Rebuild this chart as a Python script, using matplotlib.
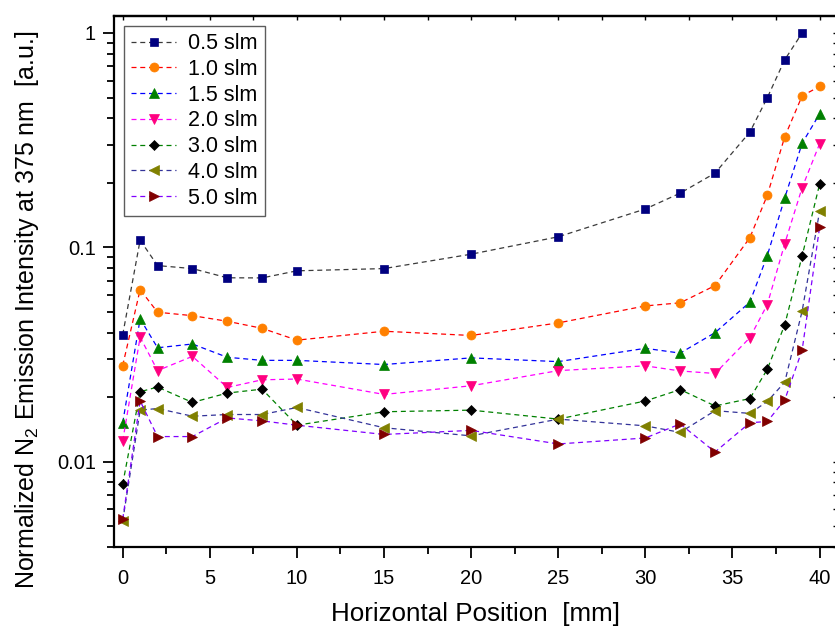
import matplotlib
matplotlib.use("Agg")
import matplotlib.pyplot as plt
import numpy as np
from matplotlib.ticker import FixedLocator, FixedFormatter, MultipleLocator, LogLocator, NullFormatter

plt.rcParams["font.family"] = ["Liberation Sans", "DejaVu Sans"]
plt.rcParams["mathtext.fontset"] = "custom"
plt.rcParams["mathtext.rm"] = "Liberation Sans"
plt.rcParams["mathtext.it"] = "Liberation Sans:italic"

# horizontal positions (mm)
pos = [0, 1, 2, 4, 6, 8, 10, 15, 20, 25, 30, 32, 34, 36, 37, 38, 39, 40]

# normalized intensities per flow rate
slm_05 = [0.0391, 0.108, 0.0822, 0.0796, 0.0721, 0.0720, 0.0777, 0.0796, 0.0929,
          0.112, 0.151, 0.179, 0.222, 0.345, 0.499, 0.750, 1.0]
slm_10 = [0.0281, 0.0635, 0.0498, 0.0480, 0.0452, 0.0419, 0.0369, 0.0406, 0.0388,
          0.0444, 0.0533, 0.0551, 0.0663, 0.111, 0.175, 0.328, 0.509, 0.563]
slm_15 = [0.0152, 0.0464, 0.0340, 0.0354, 0.0307, 0.0297, 0.0297, 0.0284, 0.0305,
          0.0293, 0.0338, 0.0321, 0.0400, 0.0555, 0.0916, 0.170, 0.306, 0.419]
slm_20 = [0.0125, 0.0381, 0.0266, 0.0310, 0.0222, 0.0241, 0.0243, 0.0206, 0.0226,
          0.0266, 0.0280, 0.0265, 0.0258, 0.0379, 0.0541, 0.104, 0.190, 0.304]
slm_30 = [0.00787, 0.0212, 0.0223, 0.0189, 0.0209, 0.0218, 0.0148, 0.0171, 0.0174,
          0.0158, 0.0192, 0.0217, 0.0182, 0.0197, 0.0270, 0.0435, 0.0913, 0.197]
slm_40 = [0.0053, 0.0174, 0.0177, 0.0163, 0.0166, 0.0166, 0.0179, 0.0144, 0.0132,
          0.0158, 0.0147, 0.0137, 0.0173, 0.0168, 0.0191, 0.0235, 0.0505, 0.147]
slm_50 = [0.0054, 0.0192, 0.0131, 0.0131, 0.0160, 0.0155, 0.0148, 0.0134, 0.0140,
          0.0121, 0.0129, 0.0150, 0.0111, 0.0152, 0.0154, 0.0194, 0.0332, 0.124]

labels = ["0.5 slm", "1.0 slm", "1.5 slm", "2.0 slm", "3.0 slm", "4.0 slm", "5.0 slm"]
series = [slm_05, slm_10, slm_15, slm_20, slm_30, slm_40, slm_50]
line_colors = ["#3a3a3a", "#ff0000", "#0000ff", "#ff00ff", "#008000", "#333399", "#8000ff"]
marker_colors = ["#000080", "#ff8000", "#008000", "#ff0080", "#000000", "#808000", "#800000"]
markers = ["s", "o", "^", "v", "D", "<", ">"]
msizes = [5.5, 6.5, 7, 7, 5.5, 7, 7]

yticks = [0.01, 0.1, 1]
ytick_labels = ["0.01", "0.1", "1"]

fig = plt.figure(figsize=(8.35, 6.3), dpi=100)
ax = fig.add_axes([114 / 835, 1 - 547 / 630, 723 / 835, 531 / 630])

for vals, lab, lc, mc, mk, ms in zip(series, labels, line_colors, marker_colors, markers, msizes):
    ax.plot(pos[:len(vals)], vals, linestyle=(0, (4, 3)), linewidth=0.9, color=lc,
            marker=mk, markersize=ms, markerfacecolor=mc, markeredgecolor=mc,
            markeredgewidth=0.5, label=lab)

ax.set_yscale("log")
ax.set_xlim(-0.5, 41)
ax.set_ylim(0.004, 1.2)

ax.xaxis.set_major_locator(MultipleLocator(5))
ax.xaxis.set_minor_locator(MultipleLocator(2.5))
ax.yaxis.set_major_locator(FixedLocator(yticks))
ax.yaxis.set_major_formatter(FixedFormatter(ytick_labels))
ax.yaxis.set_minor_locator(LogLocator(base=10, subs=np.arange(2, 10)))
ax.yaxis.set_minor_formatter(NullFormatter())

ax.tick_params(axis="both", which="major", direction="out", length=8, width=1.3,
               labelsize=14.5, top=False, right=False)
ax.tick_params(axis="both", which="minor", direction="out", length=5, width=1.3,
               top=False, right=False)
ax.tick_params(axis="x", which="major", pad=8)
ax.tick_params(axis="y", which="major", pad=5)

# small inward ticks mirrored on top and right
sec_x = ax.secondary_xaxis("top")
sec_x.xaxis.set_major_locator(MultipleLocator(2.5))
sec_x.tick_params(direction="in", length=3, width=1, labeltop=False)
sec_y = ax.secondary_yaxis("right")
sec_y.yaxis.set_major_locator(FixedLocator(yticks))
sec_y.yaxis.set_minor_locator(LogLocator(base=10, subs=np.arange(2, 10)))
sec_y.tick_params(which="both", direction="in", length=3, width=1, labelright=False)
sec_y.yaxis.set_minor_formatter(NullFormatter())

for s in ax.spines.values():
    s.set_linewidth(1.6)
sec_x.spines["top"].set_linewidth(1.6)

ax.set_xlabel("Horizontal Position  [mm]", fontsize=18.7, labelpad=10)
# y label sits a bit below the axes centre in the reference
fig.text(27 / 835, 1 - 310 / 630, "Normalized N$_2$ Emission Intensity at 375 nm  [a.u.]",
         fontsize=18, rotation=90, ha="center", va="center")

leg = ax.legend(loc="upper left", fontsize=15.5, frameon=True, fancybox=False,
                edgecolor="#333333", handlelength=2.1, handletextpad=0.55,
                borderaxespad=0.45, labelspacing=0.22, borderpad=0.35)
leg.get_frame().set_linewidth(1.0)

fig.savefig("out.png", dpi=100)
